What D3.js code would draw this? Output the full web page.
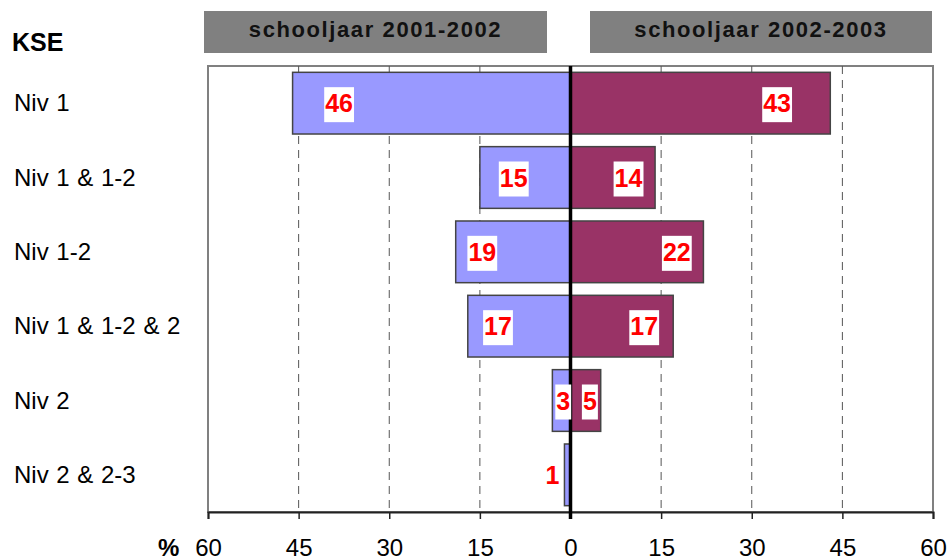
<!DOCTYPE html>
<html lang="nl">
<head>
<meta charset="utf-8">
<title>KSE schooljaar</title>
<script src="https://d3js.org/d3.v7.min.js"></script>
<style>
  body { margin: 0; background: #fff; }
  svg text { font-family: "Liberation Sans", Arial, sans-serif; }
</style>
</head>
<body>
<div id="chart"></div>
<script>
// data
var categories = ["Niv 1", "Niv 1 & 1-2", "Niv 1-2", "Niv 1 & 1-2 & 2", "Niv 2", "Niv 2 & 2-3"];
var years = ["schooljaar 2001-2002", "schooljaar 2002-2003"];
var values2001 = [46, 15, 19, 17, 3, 1];
var values2003 = [43, 14, 22, 17, 5, 0];
// where the value labels sit (in % units)
var labelAt2001 = [38.3, 9.4, 14.6, 12.0, 1.2, 3.0];
var labelAt2003 = [34.2, 9.6, 17.6, 12.2, 3.2, null];
var tickValues = [-60, -45, -30, -15, 0, 15, 30, 45, 60];

var width = 949, height = 560;
var plot = {left: 208, right: 933, top: 66, bottom: 512};

var svg = d3.select("#chart").append("svg")
  .attr("width", width).attr("height", height);

var x = d3.scaleLinear().domain([-60, 60]).range([plot.left, plot.right]);
var y = d3.scaleBand().domain(categories).range([plot.top, plot.bottom])
  .paddingInner(0.17).paddingOuter(0.085);

// header boxes
var heads = [{t: years[0], x0: 204, x1: 547}, {t: years[1], x0: 590, x1: 932}];
heads.forEach(function(h) {
  svg.append("rect").attr("x", h.x0).attr("y", 11).attr("width", h.x1 - h.x0).attr("height", 42)
    .attr("fill", "#808080");
  svg.append("text").attr("x", (h.x0 + h.x1) / 2).attr("y", 37)
    .attr("text-anchor", "middle").attr("font-size", 22).attr("font-weight", "bold")
    .style("letter-spacing", "1.6px")
    .attr("fill", "#111").text(h.t);
});

svg.append("text").attr("x", 12).attr("y", 51).attr("font-size", 25)
  .attr("font-weight", "bold").text("KSE");

// plot frame
svg.append("rect").attr("x", plot.left).attr("y", plot.top)
  .attr("width", plot.right - plot.left).attr("height", plot.bottom - plot.top)
  .attr("fill", "none").attr("stroke", "#808080").attr("stroke-width", 2);

// dashed grid
svg.append("g").selectAll("line")
  .data(tickValues.filter(function(d) { return d !== 0 && Math.abs(d) !== 60; }))
  .enter().append("line")
  .attr("x1", function(d) { return x(d); }).attr("x2", function(d) { return x(d); })
  .attr("y1", plot.top).attr("y2", plot.bottom)
  .attr("stroke", "#555").attr("stroke-width", 1).attr("stroke-dasharray", "8,6");

// bars
var rows = categories.map(function(c, i) {
  return {cat: c, a: values2001[i], b: values2003[i], la: labelAt2001[i], lb: labelAt2003[i]};
});

svg.append("g").selectAll("rect").data(rows.filter(function(d) { return d.a > 0; }))
  .enter().append("rect")
  .attr("x", function(d) { return x(-d.a); })
  .attr("y", function(d) { return y(d.cat); })
  .attr("width", function(d) { return x(0) - x(-d.a); })
  .attr("height", y.bandwidth())
  .attr("fill", "#9999FF").attr("stroke", "#444").attr("stroke-width", 1.5);

svg.append("g").selectAll("rect").data(rows.filter(function(d) { return d.b > 0; }))
  .enter().append("rect")
  .attr("x", x(0))
  .attr("y", function(d) { return y(d.cat); })
  .attr("width", function(d) { return x(d.b) - x(0); })
  .attr("height", y.bandwidth())
  .attr("fill", "#993366").attr("stroke", "#444").attr("stroke-width", 1.5);

// x axis
var axis = svg.append("g").attr("transform", "translate(0," + plot.bottom + ")")
  .call(d3.axisBottom(x).tickValues(tickValues).tickSize(7)
    .tickFormat(function(d) { return Math.abs(d); }));
axis.select(".domain").attr("stroke", "#222").attr("stroke-width", 2);
axis.selectAll(".tick line").attr("stroke", "#222").attr("stroke-width", 1.5);
axis.selectAll(".tick text").attr("font-size", 24).attr("fill", "#000")
  .attr("dy", null).attr("y", 44)
  .attr("font-family", "Liberation Sans, Arial, sans-serif");

svg.append("text").attr("x", 158).attr("y", 556).attr("font-size", 24)
  .attr("font-weight", "bold").text("%");

// zero line
svg.append("line").attr("x1", x(0)).attr("x2", x(0))
  .attr("y1", plot.top).attr("y2", plot.bottom + 7)
  .attr("stroke", "#000").attr("stroke-width", 3.5);

// category labels
svg.append("g").selectAll("text").data(categories).enter().append("text")
  .attr("x", 14).attr("y", function(d) { return y(d) + y.bandwidth() / 2 + 8; })
  .attr("font-size", 24).style("word-spacing", "1px").text(function(d) { return d; });

// value labels
var labels = [];
rows.forEach(function(d) {
  if (d.a > 0) labels.push({v: d.a, at: -d.la, cat: d.cat, box: d.a >= 3});
  if (d.b > 0) labels.push({v: d.b, at: d.lb, cat: d.cat, box: true});
});

var lg = svg.append("g").selectAll("g").data(labels).enter().append("g")
  .attr("transform", function(d) {
    return "translate(" + x(d.at) + "," + (y(d.cat) + y.bandwidth() / 2) + ")";
  });
lg.append("text").attr("text-anchor", "middle").attr("y", 9)
  .attr("font-size", 25).attr("font-weight", "bold").attr("fill", "#FF0000")
  .text(function(d) { return d.v; });
lg.each(function(d) {
  if (!d.box) return;
  var bb = d3.select(this).select("text").node().getBBox();
  d3.select(this).insert("rect", "text")
    .attr("x", bb.x - 1).attr("y", -16)
    .attr("width", bb.width + 2).attr("height", 35).attr("fill", "#fff");
});
</script>
</body>
</html>
